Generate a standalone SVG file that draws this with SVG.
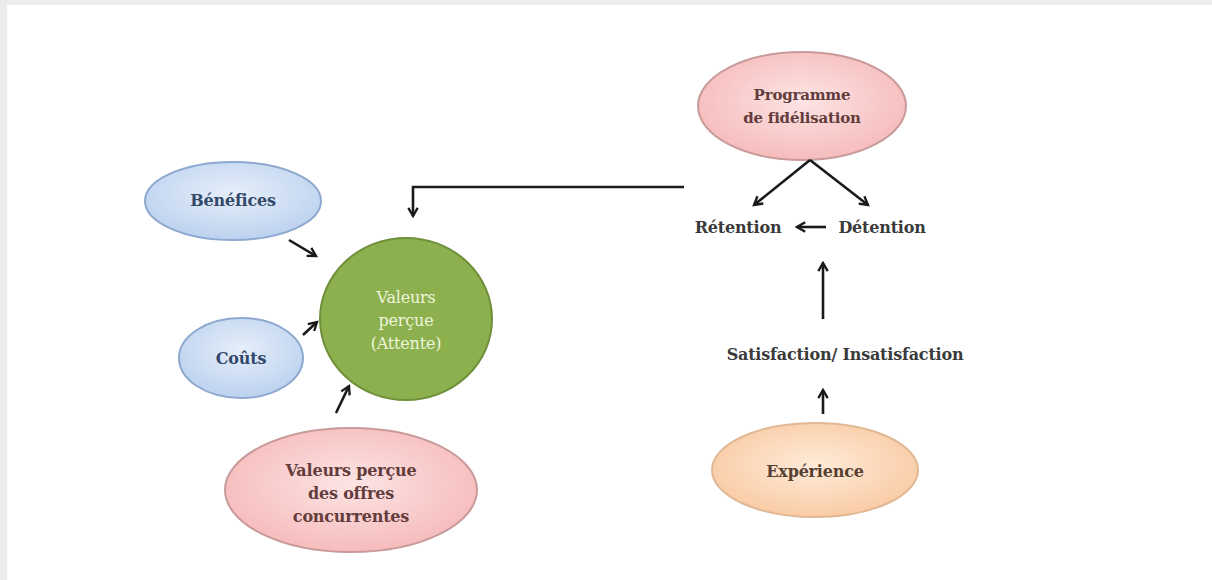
<svg xmlns="http://www.w3.org/2000/svg" width="1212" height="580" viewBox="0 0 1212 580">
  <style>
    .lbl { font-family: "DejaVu Serif", "Liberation Serif", serif; font-size: 16px; font-weight: bold; text-anchor: middle; letter-spacing: -0.2px; }
    .blue-t { fill: #34496a; }
    .pink-t { fill: #633c3c; }
    .orange-t { fill: #574034; }
    .green-t { fill: #eef5dc; font-weight: normal; }
    .plain-t { fill: #3a3a3a; }
    .conn { stroke: #1a1a1a; stroke-width: 2.6; fill: none; }
  </style>
  <defs>
    <radialGradient id="gBlue" cx="50%" cy="40%" r="65%">
      <stop offset="0" stop-color="#e6effa"/>
      <stop offset="1" stop-color="#b9cfee"/>
    </radialGradient>
    <radialGradient id="gPink" cx="50%" cy="45%" r="65%">
      <stop offset="0" stop-color="#fde4e4"/>
      <stop offset="1" stop-color="#f5b5b5"/>
    </radialGradient>
    <radialGradient id="gOrange" cx="50%" cy="45%" r="65%">
      <stop offset="0" stop-color="#feebd9"/>
      <stop offset="1" stop-color="#f9c69c"/>
    </radialGradient>
    <marker id="ah" viewBox="0 0 10 10" refX="8" refY="5" markerWidth="4.5" markerHeight="4.5" orient="auto" markerUnits="strokeWidth">
      <path d="M1,1 L8,5 L1,9" fill="none" stroke="#1a1a1a" stroke-width="2"/>
    </marker>
  </defs>

  <!-- page background with light frame -->
  <rect x="0" y="0" width="1212" height="580" fill="#ffffff"/>
  <rect x="0" y="0" width="1212" height="5" fill="#ececec"/>
  <rect x="0" y="0" width="7" height="580" fill="#ececec"/>

  <g id="benefices">
    <ellipse cx="233" cy="201" rx="88" ry="39" fill="url(#gBlue)" stroke="#8ea9cf" stroke-width="2"/>
    <text class="lbl blue-t" x="233" y="206">Bénéfices</text>
  </g>

  <g id="couts">
    <ellipse cx="241" cy="358" rx="62" ry="40" fill="url(#gBlue)" stroke="#8ea9cf" stroke-width="2"/>
    <text class="lbl blue-t" x="241" y="364">Coûts</text>
  </g>

  <g id="valeurs">
    <ellipse cx="406" cy="319" rx="86" ry="81" fill="#8cb04e" stroke="#6f8f3a" stroke-width="2"/>
    <text class="lbl green-t" x="406" y="303">Valeurs</text>
    <text class="lbl green-t" x="406" y="326">perçue</text>
    <text class="lbl green-t" x="406" y="349">(Attente)</text>
  </g>

  <g id="offres">
    <ellipse cx="351" cy="490" rx="126" ry="62" fill="url(#gPink)" stroke="#c99a9a" stroke-width="2"/>
    <text class="lbl pink-t" x="351" y="476">Valeurs perçue</text>
    <text class="lbl pink-t" x="351" y="499">des offres</text>
    <text class="lbl pink-t" x="351" y="522">concurrentes</text>
  </g>

  <g id="programme">
    <ellipse cx="802" cy="106" rx="104" ry="54" fill="url(#gPink)" stroke="#c99a9a" stroke-width="2"/>
    <text class="lbl pink-t" x="802" y="100" style="font-size:15px">Programme</text>
    <text class="lbl pink-t" x="802" y="123" style="font-size:15px">de fidélisation</text>
  </g>

  <g id="experience">
    <ellipse cx="815" cy="470" rx="103" ry="47" fill="url(#gOrange)" stroke="#e2b894" stroke-width="2"/>
    <text class="lbl orange-t" x="815" y="477">Expérience</text>
  </g>

  <g id="retention">
    <text class="lbl plain-t" x="738" y="233">Rétention</text>
  </g>
  <g id="detention">
    <text class="lbl plain-t" x="882" y="233">Détention</text>
  </g>
  <g id="satisfaction">
    <text class="lbl plain-t" x="845" y="360">Satisfaction/ Insatisfaction</text>
  </g>

  <g id="connectors">
    <!-- influences on perceived value -->
    <line class="conn" x1="289" y1="240" x2="316" y2="256" marker-end="url(#ah)"/>
    <line class="conn" x1="303" y1="335" x2="317" y2="322" marker-end="url(#ah)"/>
    <line class="conn" x1="336" y1="413" x2="349" y2="386" marker-end="url(#ah)"/>
    <!-- loyalty feedback loop -->
    <polyline class="conn" points="684,187 413,187 413,216" marker-end="url(#ah)"/>
    <line class="conn" x1="810" y1="160" x2="754" y2="205" marker-end="url(#ah)"/>
    <line class="conn" x1="810" y1="160" x2="868" y2="205" marker-end="url(#ah)"/>
    <line class="conn" x1="826" y1="227" x2="797" y2="227" marker-end="url(#ah)"/>
    <line class="conn" x1="823" y1="319" x2="823" y2="263" marker-end="url(#ah)"/>
    <line class="conn" x1="823" y1="414" x2="823" y2="390" marker-end="url(#ah)"/>
  </g>
</svg>
